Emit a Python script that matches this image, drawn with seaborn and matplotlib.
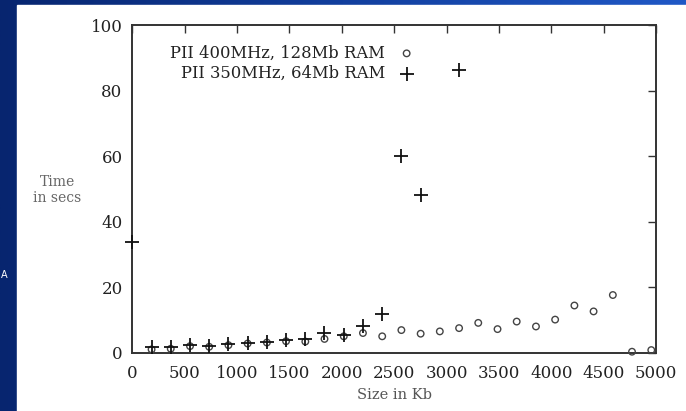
import numpy as np
import pandas as pd
import seaborn as sns
import matplotlib.pyplot as plt
from matplotlib.colors import LinearSegmentedColormap
from matplotlib.patches import Rectangle

# ── Data ─────────────────────────────────────────────────────────────────────
fast_size = [184, 367, 551, 734, 918, 1101, 1285, 1468, 1652, 1835, 2019, 2202,
             2386, 2569, 2753, 2936, 3120, 3303, 3487, 3670, 3854, 4037, 4221,
             4404, 4588, 4771, 4955]
fast_time = [1.0, 1.2, 2.0, 1.8, 2.3, 2.8, 3.1, 3.5, 3.4, 4.2, 5.0, 6.0,
             5.0, 6.9, 5.8, 6.5, 7.5, 9.1, 7.2, 9.5, 8.0, 10.1, 14.4,
             12.6, 17.6, 0.3, 0.8]

slow_size = [0, 184, 367, 551, 734, 918, 1101, 1285, 1468, 1652, 1835, 2019,
             2202, 2386, 2569, 2753, 3120]
slow_time = [33.7, 1.6, 1.6, 2.3, 1.9, 2.8, 2.9, 3.4, 3.9, 4.1, 6.1, 5.5,
             8.1, 11.7, 59.9, 48.2, 86.3]

fast_label = "PII 400MHz, 128Mb RAM"
slow_label = "PII 350MHz, 64Mb RAM"

x_ticks = [0, 500, 1000, 1500, 2000, 2500, 3000, 3500, 4000, 4500, 5000]
y_ticks = [0, 20, 40, 60, 80, 100]

fast = pd.DataFrame({"size": fast_size, "time": fast_time})
slow = pd.DataFrame({"size": slow_size, "time": slow_time})

# ── Style ─────────────────────────────────────────────────────────────────────
sns.set_style("white")
plt.rcParams["font.family"] = ["DejaVu Serif"]

W, H = 686, 411
fig = plt.figure(figsize=(W / 100, H / 100), dpi=100)

# slide background: blue gradient + white panel
bg = fig.add_axes([0, 0, 1, 1], zorder=-10)
bg.axis("off")
cmap = LinearSegmentedColormap.from_list("slide", ["#07256f", "#123f9e", "#2058c6"])
bg.imshow(np.linspace(0, 1, 256)[None, :], aspect="auto", cmap=cmap,
          extent=[0, 1, 0, 1])
bg.add_patch(Rectangle((16.7 / W, 0), 1, 1 - 5.5 / H, color="white",
                       transform=bg.transAxes))
bg.set_xlim(0, 1)
bg.set_ylim(0, 1)
fig.text(0.5 / W, 1 - 275 / H, "A", color="white", fontsize=7,
         ha="left", va="center", family="DejaVu Sans")

# ── Main plot ────────────────────────────────────────────────────────────────
left, right, bottom, top = 132.3 / W, 656 / W, 1 - 352.7 / H, 1 - 25 / H
ax = fig.add_axes([left, bottom, right - left, top - bottom])
ax.set_facecolor("none")

sns.scatterplot(data=fast, x="size", y="time", ax=ax, marker="o", s=22,
                facecolors="none", edgecolor="#444444", linewidth=1.0,
                label=fast_label, clip_on=False, zorder=3)
sns.scatterplot(data=slow, x="size", y="time", ax=ax, marker="+", s=100,
                color="#111111", linewidth=1.3, label=slow_label,
                clip_on=False, zorder=4)

ax.set_xlim(0, 5000)
ax.set_ylim(0, 100)
ax.set_xticks(x_ticks)
ax.set_yticks(y_ticks)
ax.tick_params(direction="in", length=6, width=1.0, color="#333333",
               top=True, right=True, labelsize=12, labelcolor="#222222")
ax.tick_params(axis="x", pad=9)
ax.tick_params(axis="y", pad=7)
for sp in ax.spines.values():
    sp.set_visible(True)
    sp.set_color("#333333")
    sp.set_linewidth(1.4)

ax.set_xlabel("Size in Kb", fontsize=10.5, color="#555555", labelpad=4)
ax.set_ylabel("")
fig.text(57 / W, 1 - 190 / H, "Time\nin secs", fontsize=10, color="#666666",
         ha="center", va="center", linespacing=1.2)

ax.legend(loc="upper right", bbox_to_anchor=(0.5395, 0.94), frameon=False,
          markerfirst=False, fontsize=11.8, handlelength=1.0, handletextpad=0.8,
          borderpad=0, borderaxespad=0, labelspacing=0.2)
for t in ax.get_legend().get_texts():
    t.set_color("#222222")

fig.savefig("out.png", dpi=100)
